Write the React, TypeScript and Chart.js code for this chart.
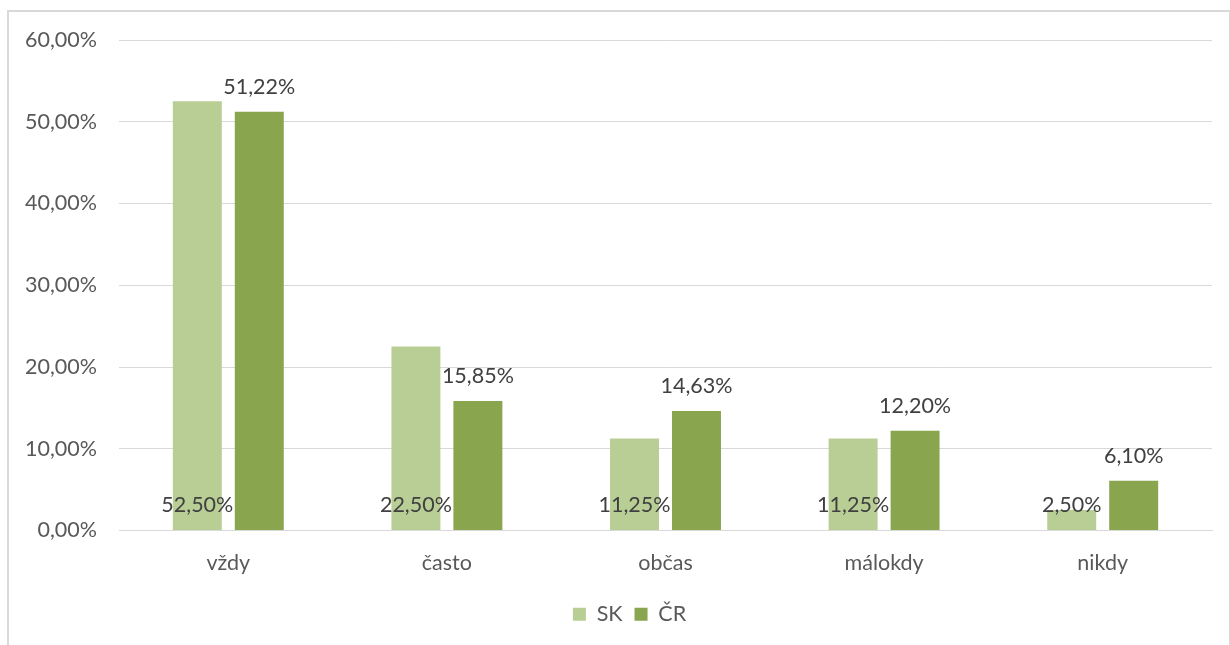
import React, { useEffect, useRef } from "react";
import { Chart, registerables } from "chart.js";

Chart.register(...registerables);

const categories = ["vždy", "často", "občas", "málokdy", "nikdy"];
const skValues = [52.5, 22.5, 11.25, 11.25, 2.5];
const crValues = [51.22, 15.85, 14.63, 12.2, 6.1];
const seriesNames = ["SK", "ČR"];
const yTicksMax = 60;
const yTickStep = 10;

const FONT = "Lato, 'Open Sans', sans-serif";
const FS = 21.5;
const fmt = (v: number) => v.toFixed(2).replace(".", ",") + "%";

const labelPlugin = {
  id: "valueLabels",
  afterLayout(chart: any) {
    const lg = chart.legend;
    if (lg) {
      lg.left += 19;
      lg.right += 19;
      if (lg.adjustHitBoxes) lg.adjustHitBoxes();
    }
  },
  afterDatasetsDraw(chart: any) {
    const ctx = chart.ctx;
    const yScale = chart.scales.y;
    ctx.save();
    ctx.font = `${FS}px ${FONT}`;
    ctx.fillStyle = "#404040";
    ctx.textAlign = "center";
    ctx.textBaseline = "middle";
    chart.data.datasets.forEach((ds: any, di: number) => {
      const meta = chart.getDatasetMeta(di);
      meta.data.forEach((el: any, i: number) => {
        const v = ds.data[i];
        const y = di === 0 ? yScale.getPixelForValue(0) - 25 : el.y - 25;
        ctx.fillText(fmt(v), el.x, y);
      });
    });
    ctx.restore();
  },
};

export default function App() {
  const ref = useRef<HTMLCanvasElement | null>(null);
  useEffect(() => {
    if (!ref.current) return;
    const chart = new Chart(ref.current, {
      type: "bar",
      data: {
        labels: categories,
        datasets: [
          {
            label: seriesNames[0],
            data: skValues,
            backgroundColor: "#B8CE95",
            categoryPercentage: 0.567,
            barPercentage: 0.79,
          },
          {
            label: seriesNames[1],
            data: crValues,
            backgroundColor: "#89A54E",
            categoryPercentage: 0.567,
            barPercentage: 0.79,
          },
        ],
      },
      options: {
        animation: false,
        responsive: false,
        maintainAspectRatio: false,
        layout: { padding: { top: 28, right: 16, left: 0, bottom: 10 } },
        scales: {
          x: {
            grid: { display: false, drawTicks: false },
            border: { color: "#d9d9d9", width: 1 },
            ticks: { color: "#595959", font: { family: FONT, size: FS }, padding: 20 },
            afterFit: (s: any) => {
              s.height = 61;
              s.paddingLeft = 0;
              s.paddingRight = 0;
            },
          },
          y: {
            min: 0,
            max: yTicksMax,
            grid: { color: "#d9d9d9", drawTicks: false },
            border: { display: false },
            ticks: {
              stepSize: yTickStep,
              color: "#595959",
              font: { family: FONT, size: FS },
              padding: 22,
              callback: (v: any) => fmt(Number(v)),
            },
            afterFit: (s: any) => {
              s.width = 110;
              s.paddingTop = 0;
              s.paddingBottom = 0;
            },
          },
        },
        plugins: {
          legend: {
            position: "bottom",
            labels: {
              boxWidth: 13,
              boxHeight: 13,
              color: "#595959",
              font: { family: FONT, size: FS },
              padding: 12,
            },
          },
          tooltip: { enabled: false },
        },
      },
      plugins: [labelPlugin],
    });
    return () => chart.destroy();
  }, []);
  return (
    <div
      style={{
        position: "fixed",
        left: 7,
        top: 10,
        width: 1220,
        height: 645,
        border: "2px solid #d9d9d9",
        background: "#fff",
      }}
    >
      <canvas ref={ref} width={1219} height={633} style={{ display: "block" }} />
    </div>
  );
}
